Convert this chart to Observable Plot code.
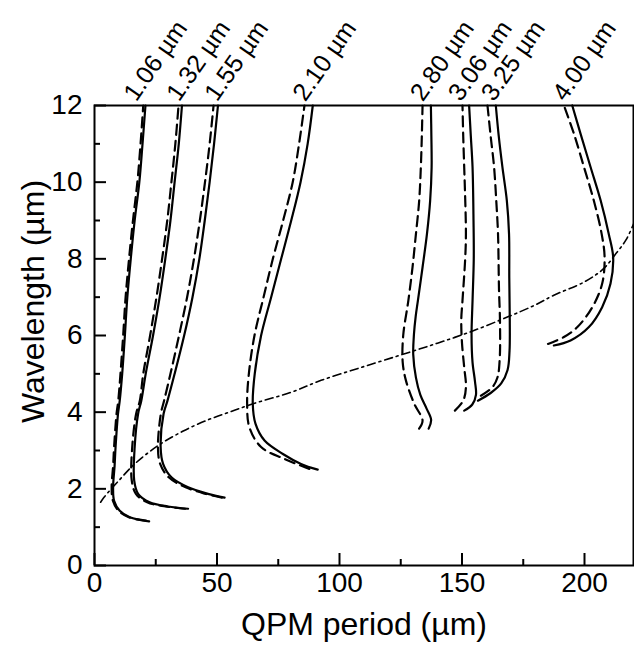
<!DOCTYPE html>
<html>
<head>
<meta charset="utf-8">
<script src="https://cdn.jsdelivr.net/npm/d3@7"></script>
<script src="https://cdn.jsdelivr.net/npm/@observablehq/plot@0.6"></script>
<style>
  html, body { margin: 0; padding: 0; background: #fff; }
  #chart { width: 634px; height: 645px; }
</style>
</head>
<body>
<div id="chart"></div>
<script>
// ---- Data (x = QPM period in µm, y = wavelength in µm) ----
const pumpLabels = ["1.06 µm", "1.32 µm", "1.55 µm", "2.10 µm", "2.80 µm", "3.06 µm", "3.25 µm", "4.00 µm"];
const labelX = [17.0, 34.5, 50.0, 86.0, 134.0, 149.5, 163.0, 192.0];

const xMajorTicks = [0, 50, 100, 150, 200];
const xMinorTicks = [25, 75, 125, 175];
const yMajorTicks = [0, 2, 4, 6, 8, 10, 12];
const yMinorTicks = [1, 3, 5, 7, 9, 11];

// solid curves
const s106 = [[22.3,1.15],[14.4,1.26],[10.3,1.43],[8.0,1.69],[7.6,2.04],[8.2,2.6],[8.6,3.09],[9.6,3.96],[10.3,4.3],[11.3,5],[12.4,6],[13.4,7],[14.8,8],[16.4,9],[18.3,10],[19.6,11],[20.8,12]];
const s132 = [[38.2,1.48],[30.0,1.54],[22.5,1.65],[17.8,1.87],[16.2,2.22],[16.4,3.09],[17.8,3.96],[19.1,4.3],[20.9,5],[23.9,6],[26.6,7],[28.9,8],[31.0,9],[32.7,10],[34.4,11],[35.7,12]];
const s155 = [[53.1,1.77],[46.3,1.87],[38.2,2.04],[31.4,2.30],[28.0,2.65],[27.0,3.09],[28.2,3.96],[29.8,4.3],[32.7,5],[36.6,6],[40.0,7],[42.8,8],[45.0,9],[47.0,10],[48.8,11],[50.4,12]];
const s210 = [[91.1,2.50],[84.3,2.65],[76.9,2.91],[69.4,3.26],[65.7,3.70],[64.6,4.22],[65.4,5.0],[68.0,6],[72.1,7],[76.2,8],[80.3,9],[84.1,10],[87.0,11],[89.1,12]];
const s280 = [[136.4,3.57],[137.4,3.8],[135.5,4.1],[133.0,4.45],[131.2,4.9],[130.1,5.5],[130.4,6.04],[131.1,6.5],[132.0,6.91],[133.9,7.78],[135.7,8.65],[137.0,9.52],[137.6,10.39],[137.5,11.2],[137.3,12]];
const s306 = [[150.9,4.04],[154.2,4.2],[155.7,4.45],[155.3,4.8],[154.3,5.3],[153.9,6.0],[154.3,6.9],[154.8,8.0],[154.7,9.0],[154.3,10.4],[153.6,11.2],[152.9,12]];
const s325 = [[156.5,4.30],[161.7,4.50],[166.0,4.75],[168.6,5.1],[169.4,5.6],[169.5,6.4],[169.3,7.5],[169.2,8.65],[168.3,9.52],[166.5,10.39],[165.0,11.2],[163.8,12]];
const s400 = [[187.5,5.74],[194.3,5.87],[201.8,6.22],[207.2,6.74],[210.6,7.35],[211.7,8.04],[209.9,8.65],[206.6,9.52],[202.5,10.39],[198.4,11.26],[195.0,12]];

// dashed curves
const d106 = [[21.0,1.17],[14.0,1.26],[9.8,1.43],[7.5,1.69],[7.0,2.04],[7.6,2.6],[8.0,3.09],[9.0,3.96],[9.7,4.3],[10.6,5],[11.7,6],[12.7,7],[14.1,8],[15.7,9],[17.5,10],[18.8,11],[19.9,12]];
const d132 = [[37.0,1.48],[29.0,1.54],[21.5,1.65],[16.9,1.87],[15.2,2.22],[15.4,3.09],[17.0,3.96],[18.5,4.3],[19.9,5],[22.7,6],[25.3,7],[27.6,8],[29.7,9],[31.4,10],[33.0,11],[34.3,12]];
const d155 = [[52.0,1.77],[45.3,1.87],[37.2,2.04],[30.3,2.30],[26.8,2.65],[25.9,3.09],[27.1,3.96],[28.4,4.3],[31.0,5],[34.5,6],[37.8,7],[40.6,8],[43.0,9],[45.1,10],[47.0,11],[48.6,12]];
const d210 = [[87.7,2.52],[77.5,2.78],[68.0,3.09],[63.2,3.61],[62.3,4.22],[63.0,5],[65.3,6],[69.0,7],[72.8,8],[77.0,9],[80.9,10],[83.5,11],[85.7,12]];
const d280 = [[132.5,3.57],[133.9,3.78],[130.5,4.22],[127.1,4.83],[125.8,5.3],[126.0,6.0],[128.1,6.91],[129.8,7.78],[131.2,8.65],[132.5,9.5],[133.2,10.39],[133.6,11.2],[133.9,12]];
const d306 = [[147.1,4.04],[150.5,4.3],[151.6,4.65],[150.9,5.17],[150.0,5.8],[149.7,6.4],[150.2,6.91],[151.3,8.0],[151.6,8.65],[151.2,9.8],[150.9,10.39],[150.5,11.2],[150.2,12]];
const d325 = [[157.7,4.43],[162.4,4.65],[164.5,4.91],[165.4,5.4],[165.5,6.39],[165.1,7.2],[164.7,8.65],[164.0,9.5],[163.1,10.39],[161.7,11.2],[160.4,12]];
const d400 = [[185.1,5.78],[191.6,5.96],[197.1,6.22],[203.2,6.74],[207.2,7.35],[208.2,8.04],[207.0,8.65],[203.8,9.52],[199.8,10.39],[195.7,11.26],[191.6,12]];

// dash-dot boundary curve
const boundary = [[2.5,1.65],[3.9,1.78],[10,2.22],[16.4,2.65],[26,3.13],[36,3.5],[46.3,3.8],[55,4.0],[64.7,4.22],[80.3,4.52],[92.5,4.83],[108,5.15],[124.4,5.48],[140,5.8],[153.6,6.1],[168.5,6.48],[180,6.8],[187.5,7.05],[200,7.4],[207.9,7.75],[213,8.15],[217,8.5],[220,8.91]];

const solids = [s106, s132, s155, s210, s280, s306, s325, s400];
const dashes = [d106, d132, d155, d210, d280, d306, d325, d400];

const FONT = "'Liberation Sans', Arial, Helvetica, sans-serif";
const px = d => d[0], py = d => d[1];

const labelData = pumpLabels.map((t, i) => ({t, x: labelX[i], y: 12}));

const chart = Plot.plot({
  width: 634,
  height: 645,
  marginLeft: 94,
  marginRight: 1,
  marginTop: 105,
  marginBottom: 80,
  style: {fontFamily: FONT, background: "#fff", color: "#000", overflow: "visible"},
  x: {domain: [0, 220], label: null},
  y: {domain: [0, 12], label: null},
  marks: [
    ...dashes.map(d => Plot.line(d, {x: px, y: py, curve: "catmull-rom", stroke: "#000", strokeWidth: 2.2, strokeDasharray: "10,6"})),
    ...solids.map(d => Plot.line(d, {x: px, y: py, curve: "catmull-rom", stroke: "#000", strokeWidth: 2.2})),
    Plot.line(boundary, {x: px, y: py, curve: "catmull-rom", stroke: "#000", strokeWidth: 1.6, strokeDasharray: "8,4,2,4"}),
    // tick marks (inward)
    Plot.axisX({ticks: xMajorTicks, tickSize: -12, strokeWidth: 2, tickFormat: () => "", label: null}),
    Plot.axisX({ticks: xMinorTicks, tickSize: -6, strokeWidth: 2, tickFormat: () => "", label: null}),
    Plot.axisY({ticks: yMajorTicks, tickSize: -12, strokeWidth: 2, tickFormat: () => "", label: null}),
    Plot.axisY({ticks: yMinorTicks, tickSize: -6, strokeWidth: 2, tickFormat: () => "", label: null}),
    // tick labels
    Plot.axisX({ticks: xMajorTicks, tickSize: 0, tickPadding: 7, fontSize: 28, tickFormat: d3.format("d"), label: null}),
    Plot.axisY({ticks: yMajorTicks, tickSize: 0, tickPadding: 12, fontSize: 28, tickFormat: d3.format("d"), label: null}),
    // axis titles
    Plot.text(["QPM period (µm)"], {frameAnchor: "bottom", textAnchor: "middle", dy: 69, lineAnchor: "bottom", fontSize: 32, fill: "#000"}),
    Plot.text(["Wavelength (µm)"], {frameAnchor: "left", textAnchor: "middle", dx: -51, dy: -34, rotate: -90, lineAnchor: "bottom", fontSize: 32, fill: "#000"}),
    // curve labels
    Plot.text(labelData, {x: "x", y: "y", text: "t", rotate: -55, textAnchor: "start", lineAnchor: "bottom", dy: -3, fontSize: 25, fill: "#000"}),
    Plot.frame({stroke: "#000", strokeWidth: 2})
  ]
});
document.getElementById("chart").appendChild(chart);
</script>
</body>
</html>
